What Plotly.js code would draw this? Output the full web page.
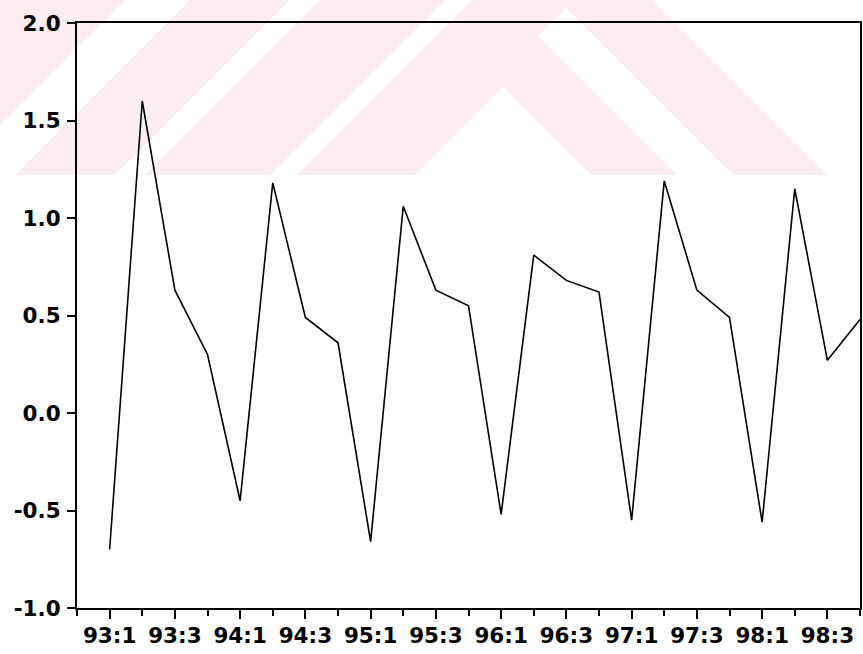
<!DOCTYPE html>
<html>
<head>
<meta charset="utf-8">
<script src="https://cdn.plot.ly/plotly-3.0.1.min.js"></script>
<style>
  html, body { margin: 0; padding: 0; background: #ffffff; }
  #chart { width: 863px; height: 654px; }
</style>
</head>
<body>
<div id="chart"></div>
<script>
// ---- Data (quarterly, 1993:1 - 1998:4) ----
const quarters = [
  "93:1","93:2","93:3","93:4",
  "94:1","94:2","94:3","94:4",
  "95:1","95:2","95:3","95:4",
  "96:1","96:2","96:3","96:4",
  "97:1","97:2","97:3","97:4",
  "98:1","98:2","98:3","98:4"
];
const values = [
  -0.70, 1.60, 0.63, 0.30,
  -0.45, 1.18, 0.49, 0.36,
  -0.66, 1.06, 0.63, 0.55,
  -0.52, 0.81, 0.68, 0.62,
  -0.55, 1.19, 0.63, 0.49,
  -0.56, 1.15, 0.27, 0.48
];
const yTicks = [-1.0, -0.5, 0.0, 0.5, 1.0, 1.5, 2.0];

// ---- Derived positions ----
const xIdx = quarters.map((q, i) => i);
const majorVals = xIdx.filter(i => i % 2 === 0);
const majorText = majorVals.map(i => quarters[i]);
const minorVals = [-1].concat(xIdx.filter(i => i % 2 === 1));

// ---- Layout geometry ----
const W = 863, H = 654;
const M = { l: 77, r: 3, t: 23, b: 46 };
const PW = W - M.l - M.r, PH = H - M.t - M.b;

// Background watermark (scan artifact), polygons in page pixels
const pink = "rgb(253,236,240)";
const wmPink = [
  [[0,0],[125,0],[0,125]],
  [[190,0],[290,0],[115,175],[15,175]],
  [[320,0],[445,0],[270,175],[145,175]],
  [[472,0],[652,0],[827,175],[297,175]]
];
const wmWhite = [
  [[503,87],[591,175],[415,175]],
  [[566,8],[733,175],[677,175],[538,36]]
];
function toPath(poly) {
  return poly.map((p, k) => {
    const px = (p[0] - M.l) / PW;
    const py = 1 + (M.t - p[1]) / PH;
    return (k === 0 ? "M" : "L") + px.toFixed(5) + "," + py.toFixed(5);
  }).join(" ") + " Z";
}
const shapes = [];
wmPink.forEach(p => shapes.push({type: "path", xref: "paper", yref: "paper", path: toPath(p),
  fillcolor: pink, line: {width: 0}, layer: "below"}));
wmWhite.forEach(p => shapes.push({type: "path", xref: "paper", yref: "paper", path: toPath(p),
  fillcolor: "#ffffff", line: {width: 0}, layer: "below"}));

const tickFont = { family: "DejaVu Sans", size: 21.5, color: "#000000", weight: "bold" };

const trace = {
  x: xIdx,
  y: values,
  type: "scatter",
  mode: "lines",
  line: { color: "#000000", width: 1.6 },
  hoverinfo: "skip",
  showlegend: false
};

const layout = {
  width: W, height: H,
  margin: { l: M.l, r: M.r, t: M.t, b: M.b, pad: 0 },
  paper_bgcolor: "#ffffff",
  plot_bgcolor: "rgba(0,0,0,0)",
  showlegend: false,
  shapes: shapes,
  xaxis: {
    range: [-1, 23],
    tickmode: "array",
    tickvals: majorVals,
    ticktext: majorText,
    ticks: "outside",
    ticklen: 9,
    tickwidth: 2,
    tickcolor: "#000000",
    tickfont: tickFont,
    ticklabelstandoff: -2,
    showgrid: false,
    zeroline: false,
    showline: true,
    linecolor: "#000000",
    linewidth: 2,
    mirror: true,
    minor: {
      tickmode: "array",
      tickvals: minorVals.concat([23]),
      ticks: "outside",
      ticklen: 6,
      tickwidth: 2,
      tickcolor: "#000000",
      showgrid: false
    }
  },
  yaxis: {
    range: [-1, 2],
    tickmode: "array",
    tickvals: yTicks,
    ticktext: yTicks.map(v => v.toFixed(1)),
    ticks: "outside",
    ticklen: 8,
    tickwidth: 2,
    tickcolor: "#000000",
    tickfont: tickFont,
    ticklabelstandoff: 2,
    showgrid: false,
    zeroline: false,
    showline: true,
    linecolor: "#000000",
    linewidth: 2,
    mirror: true
  }
};

Plotly.newPlot("chart", [trace], layout, { staticPlot: true, displayModeBar: false });
</script>
</body>
</html>
